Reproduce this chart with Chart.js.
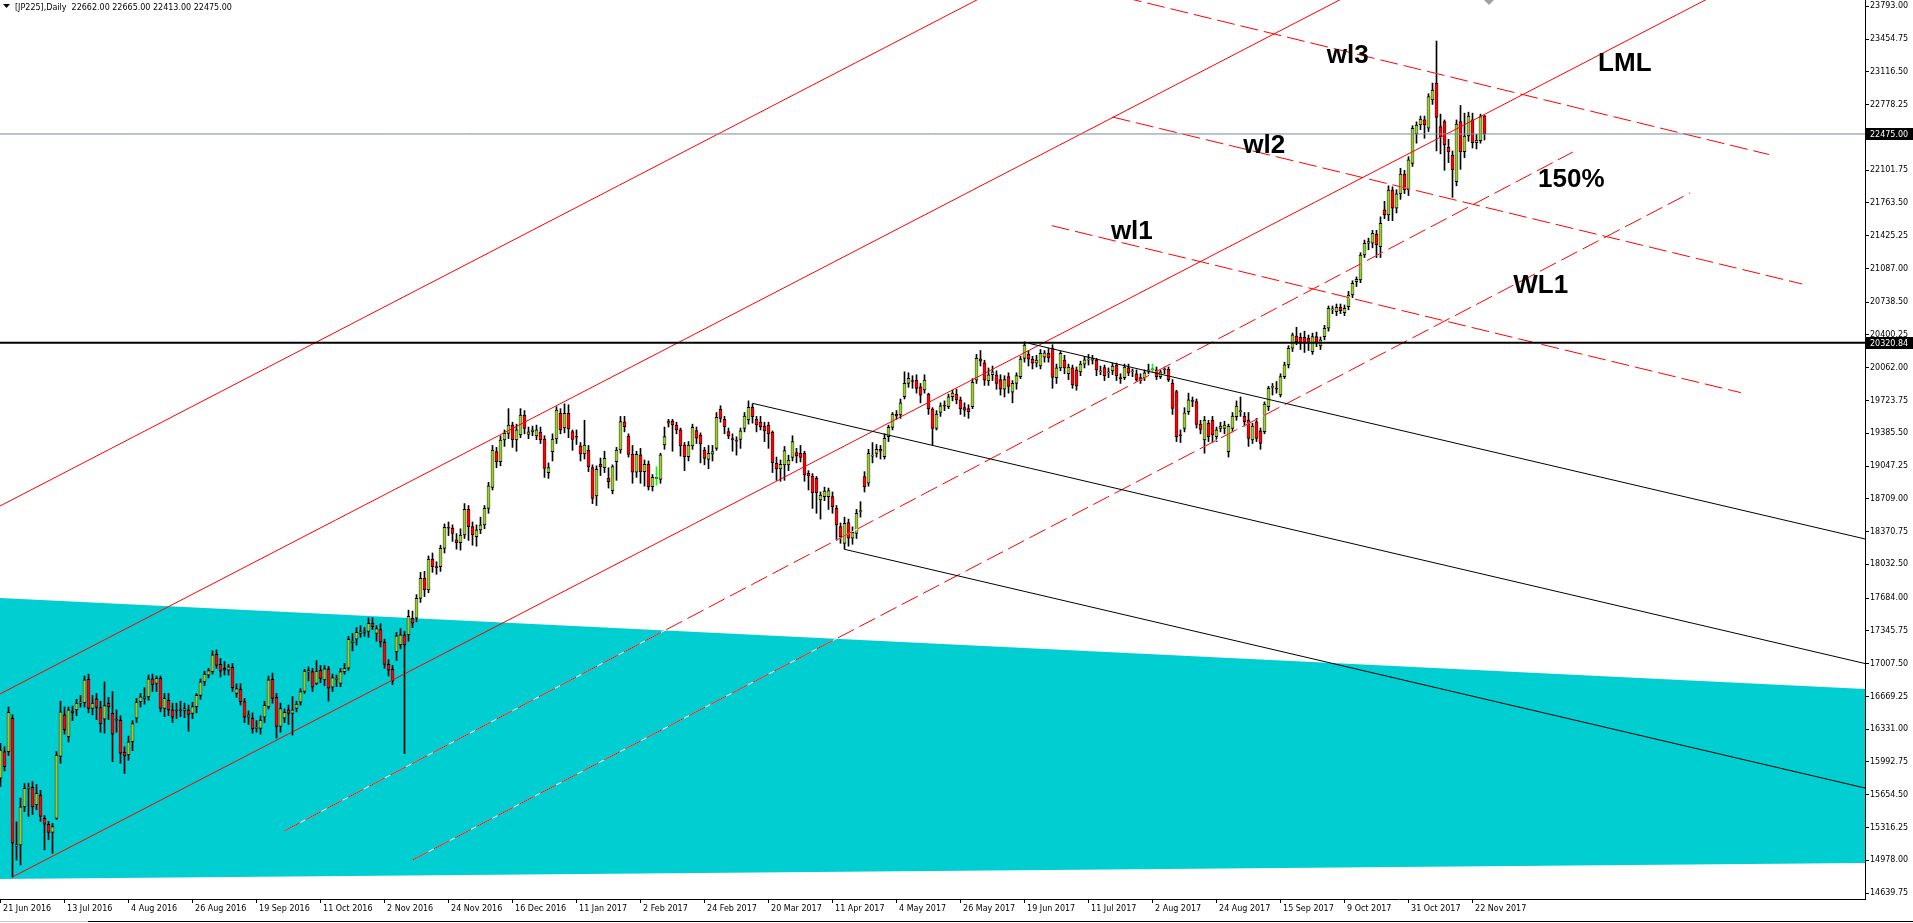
<!DOCTYPE html>
<html><head><meta charset="utf-8">
<script src="https://cdn.jsdelivr.net/npm/chart.js@4.4.0/dist/chart.umd.min.js"></script>
<style>html,body{margin:0;padding:0;background:#fff;overflow:hidden}#wrap{width:1913px;height:923px;position:relative}</style>
</head><body><div id="wrap"><canvas id="c"></canvas></div>
<script>
const titleText = '[JP225],Daily  22662.00 22665.00 22413.00 22475.00';
const xTickLabels = ['21 Jun 2016','13 Jul 2016','4 Aug 2016','26 Aug 2016','19 Sep 2016','11 Oct 2016','2 Nov 2016','24 Nov 2016','16 Dec 2016','11 Jan 2017','2 Feb 2017','24 Feb 2017','20 Mar 2017','11 Apr 2017','4 May 2017','26 May 2017','19 Jun 2017','11 Jul 2017','2 Aug 2017','24 Aug 2017','15 Sep 2017','9 Oct 2017','31 Oct 2017','22 Nov 2017'];
const xTickBars = [0,16,32,48,64,80,96,112,128,144,160,176,192,208,224,240,256,272,288,304,320,336,352,368];
const yTickValues = [23793.00,23454.75,23116.50,22778.25,22440.00,22101.75,21763.50,21425.25,21087.00,20738.50,20400.25,20062.00,19723.75,19385.50,19047.25,18709.00,18370.75,18032.50,17684.00,17345.75,17007.50,16669.25,16331.00,15992.75,15654.50,15316.25,14978.00,14639.75];

const opens = [15825,16100,16100,16445,15125,15135,15530,15720,15730,15550,
15650,15410,15350,15265,15410,16050,16480,16255,16520,16530,
16600,16605,16845,16545,16645,16555,16435,16600,16495,16430,
16425,16095,16065,16200,16445,16615,16645,16665,16850,16805,
16855,16545,16630,16530,16530,16525,16525,16530,16495,16565,
16680,16820,16890,16925,17105,17000,16960,16940,16970,16700,
16745,16615,16455,16445,16340,16340,16455,16565,16845,16660,
16360,16445,16530,16495,16545,16610,16720,16920,16925,16805,
16940,16840,16955,16765,16845,16805,16925,16960,17225,17260,
17320,17330,17340,17425,17320,17360,17230,17000,16950,17130,
17200,17305,17305,17475,17476,17682,17889,17770,18088,18010,
18010,18198,18415,18405,18285,18257,18336,18600,18422,18319,
18388,18440,18611,18828,19196,19093,19316,19385,19471,19316,
19368,19574,19375,19400,19358,19395,19327,18980,19196,19327,
19592,19440,19592,19403,19350,19255,19172,19213,19031,18738,
19065,19031,18921,18793,19093,19213,19500,19358,19168,18983,
19162,18990,19069,18835,18920,18910,19265,19489,19512,19471,
19420,19265,19145,19255,19413,19368,19213,19117,19170,19230,
19633,19530,19403,19325,19310,19323,19437,19523,19654,19530,
19500,19461,19471,19395,19076,19017,19059,19059,19137,19186,
19179,19179,18972,18945,18921,18697,18732,18732,18732,18611,
18422,18250,18463,18302,18353,18577,18938,18870,19150,19179,
19220,19144,19350,19446,19580,19574,19763,19901,19930,19935,
19866,19832,19790,19636,19436,19601,19670,19660,19763,19790,
19730,19650,19640,19660,19935,20155,20114,19925,19990,19990,
19940,19840,19970,19810,19900,19970,20159,20200,20150,20110,
20080,20170,20210,20262,19960,20060,20140,20000,20060,20040,
20020,20100,20140,20140,20140,20020,20065,20010,20030,20090,
19960,19960,20060,20020,20000,19960,19960,20030,20040,20040,
19970,20045,20045,19901,19815,19368,19436,19610,19720,19712,
19480,19316,19488,19522,19350,19436,19436,19195,19436,19556,
19610,19564,19522,19316,19505,19412,19402,19660,19860,19850,
19781,19970,20091,20263,20390,20376,20376,20366,20228,20384,
20287,20384,20470,20660,20640,20686,20630,20693,20813,20950,
20968,21226,21347,21347,21443,21313,21691,21639,21897,21708,
21856,22062,21897,22172,22475,22568,22620,22534,22826,22998,
22551,22602,22338,22258,21983,22602,22293,22454,22620,22386,
22406,22662];
const highs = [16185,16150,16560,16480,15375,15620,15770,15775,15790,15760,
15700,15440,15380,15360,16100,16620,16560,16560,16570,16640,
16680,16880,16900,16680,16700,16620,16820,16660,16720,16530,
16470,16150,16260,16420,16650,16700,16760,16890,16900,16880,
16880,16700,16700,16600,16600,16620,16600,16580,16610,16700,
16850,16930,16960,17140,17150,17060,17030,17000,17010,16800,
16800,16650,16520,16500,16420,16470,16620,16880,16910,16700,
16600,16540,16580,16670,16620,16750,16950,16975,16960,17040,
16990,16990,16980,16900,16890,16960,17010,17290,17320,17380,
17400,17380,17480,17480,17400,17420,17260,17050,16990,17330,
17370,17340,17560,17550,17720,17950,17960,18120,18150,18060,
18230,18450,18470,18440,18350,18400,18660,18640,18470,18440,
18520,18640,18880,19260,19240,19360,19420,19640,19500,19480,
19640,19620,19450,19460,19470,19450,19360,19080,19380,19660,
19640,19690,19680,19420,19420,19290,19520,19260,19060,19050,
19130,19200,19030,19060,19240,19560,19560,19380,19260,19200,
19230,19110,19100,18960,19040,19180,19450,19530,19530,19500,
19440,19290,19300,19480,19450,19390,19240,19260,19260,19600,
19670,19560,19440,19380,19350,19440,19600,19720,19690,19560,
19560,19500,19500,19410,19140,19110,19250,19160,19360,19230,
19260,19200,19000,18970,18940,18780,18830,18820,18780,18640,
18460,18520,18500,18420,18600,18680,18990,19220,19290,19270,
19260,19380,19470,19600,19620,19740,20020,20010,19980,19990,
19900,19990,19800,19650,19620,19700,19720,19790,19830,19840,
19760,19700,19680,19950,20200,20240,20140,20060,20080,20030,
19990,19980,20010,19930,20010,20180,20330,20240,20180,20190,
20250,20240,20260,20300,20100,20230,20190,20100,20090,20070,
20130,20180,20200,20190,20160,20080,20090,20060,20110,20110,
20000,20100,20100,20050,20040,20000,20040,20100,20100,20070,
20040,20070,20070,19940,19830,19420,19650,19800,19760,19740,
19520,19560,19520,19560,19450,19500,19510,19480,19600,19720,
19760,19600,19600,19490,19540,19440,19710,19870,19900,19920,
20000,20120,20290,20420,20480,20420,20440,20400,20420,20430,
20380,20500,20700,20700,20720,20720,20710,20850,20960,21000,
21250,21380,21400,21480,21480,21620,21780,21940,21930,21900,
22120,22100,22240,22560,22600,22660,22660,22890,23000,23435,
22680,22620,22420,22300,22620,22770,22690,22700,22690,22470,
22680,22665];
const lows = [15740,15900,16060,14805,14980,14930,15480,15430,15450,15500,
15380,15085,15190,15050,15400,15980,16280,16200,16420,16470,
16560,16560,16500,16480,16430,16300,16290,16430,15995,16300,
15980,15875,16010,16110,16400,16560,16590,16630,16720,16720,
16510,16460,16470,16400,16440,16460,16450,16310,16440,16500,
16640,16780,16860,16900,16960,16870,16890,16890,16720,16660,
16580,16400,16380,16290,16300,16280,16400,16540,16600,16240,
16300,16400,16380,16270,16510,16580,16700,16830,16720,16790,
16810,16780,16620,16720,16770,16770,16900,16940,17140,17200,
17280,17290,17280,17360,17240,17180,16960,16880,16790,17040,
17160,16080,17240,17380,17440,17640,17700,17740,17950,17930,
17960,18150,18330,18270,18190,18180,18300,18280,18230,18220,
18350,18400,18560,18800,19030,19050,19250,19330,19240,19200,
19340,19380,19330,19360,19320,19280,18930,18920,19100,19280,
19380,19390,19340,19210,19270,19100,19120,18990,18660,18640,
18950,18980,18820,18760,18900,19180,19400,19140,18870,18930,
18870,18840,18800,18790,18850,18870,19220,19450,19200,19380,
19150,19000,19100,19220,19280,19080,19060,19020,19100,19210,
19500,19380,19330,19200,19160,19230,19400,19480,19490,19400,
19420,19300,19230,18980,18900,18890,18900,19000,19100,19080,
19090,18890,18800,18610,18560,18500,18690,18600,18560,18280,
18250,18190,18220,18240,18300,18520,18780,18840,19080,19140,
19120,19120,19300,19420,19530,19540,19740,19860,19850,19800,
19700,19800,19580,19262,19420,19560,19620,19640,19720,19690,
19580,19560,19540,19640,19900,20080,19880,19880,19930,19840,
19780,19760,19800,19700,19840,19950,20120,20080,20050,20070,
20050,20120,20120,19850,19900,20030,20000,19940,19850,19830,
19980,20060,20090,20100,19980,19990,19930,19960,19990,19930,
19900,19940,19980,19970,19920,19900,19930,20000,20000,19940,
19950,20000,19920,19580,19300,19290,19400,19580,19660,19440,
19380,19180,19300,19290,19300,19400,19380,19140,19400,19520,
19560,19460,19250,19280,19300,19220,19380,19620,19780,19800,
19760,19950,20060,20230,20300,20250,20220,20240,20200,20280,
20250,20350,20440,20620,20600,20620,20600,20660,20780,20900,
20940,21200,21280,21300,21200,21200,21600,21580,21580,21660,
21800,21860,21840,22140,22380,22520,22430,22500,22780,22300,
22270,22100,22180,21821,21940,22110,22230,22400,22330,22320,
22380,22413];
const closes = [16115,15945,16505,15155,15140,15530,15720,15737,15530,15670,
15430,15350,15265,15325,16065,16510,16325,16530,16500,16600,
16610,16840,16545,16600,16555,16385,16575,16565,16280,16425,
16085,16055,16200,16390,16610,16665,16665,16850,16790,16855,
16545,16650,16530,16455,16520,16520,16545,16485,16565,16680,
16820,16900,16935,17100,16990,16930,16940,16975,16760,16750,
16615,16455,16480,16335,16345,16425,16580,16840,16650,16360,
16545,16505,16495,16530,16590,16720,16930,16935,16765,16930,
16855,16955,16755,16865,16850,16925,16960,17260,17240,17330,
17335,17345,17425,17390,17370,17230,17000,16940,16830,17295,
17305,17200,17495,17425,17682,17889,17770,18088,18010,17995,
18198,18415,18405,18353,18257,18336,18600,18422,18336,18388,
18440,18611,18842,19213,19093,19316,19385,19471,19316,19420,
19574,19437,19400,19420,19420,19316,19024,19031,19327,19626,
19420,19592,19430,19323,19345,19172,19265,19041,18714,19014,
19041,19127,18886,19041,19213,19506,19454,19168,18983,19168,
18990,19065,18835,18931,18925,19162,19351,19512,19471,19420,
19255,19145,19265,19447,19334,19275,19127,19179,19196,19550,
19540,19454,19358,19320,19305,19410,19564,19654,19557,19471,
19454,19410,19378,19083,19017,19065,19206,19110,19299,19151,
19137,18955,18945,18773,18773,18749,18790,18794,18628,18439,
18319,18456,18302,18364,18560,18580,18835,19179,19155,19220,
19200,19333,19446,19584,19565,19701,19901,19952,19920,19849,
19780,19935,19636,19436,19584,19670,19665,19763,19800,19730,
19640,19625,19610,19911,20159,20130,19935,19990,20020,19900,
19840,19940,19870,19900,19980,20152,20296,20150,20110,20140,
20210,20215,20165,19962,20060,20210,20060,20070,19885,19875,
20100,20145,20150,20155,20040,20030,19980,20020,20080,19980,
19950,20070,20010,20025,19940,19930,20010,20040,20045,19970,
20020,20040,19940,19643,19350,19360,19598,19730,19715,19477,
19426,19522,19350,19368,19420,19460,19470,19460,19564,19667,
19615,19505,19333,19460,19333,19281,19687,19850,19865,19840,
19970,20091,20263,20401,20332,20315,20315,20315,20384,20321,
20349,20470,20676,20665,20686,20652,20676,20813,20934,20975,
21226,21347,21364,21450,21330,21553,21639,21897,21708,21856,
22062,21897,22207,22534,22568,22630,22568,22860,22929,22647,
22448,22362,22293,22103,22578,22293,22454,22661,22386,22413,
22654,22475];
const limeBars = [164, 288];

// chart objects in (bar index, price)
const zoneTop = [[-0.125,17685],[466.125,16746]];
const zoneBottom = [[-0.125,14785],[466.125,14950]];
const forkUpper = [[-0.125,18635],[466.125,28608]];
const forkMedian = [[-0.125,16695],[466.125,26668]];
const forkLower = [[3,14806],[466.125,24712]];
const level150 = [[70.9,15280],[393.1,22289]];
const levelWL1 = [[103,14981],[422.4,21867]];
const warnWl3 = [[275,23944],[442.1,22263]];
const warnWl2 = [[278,22650],[450.4,20927]];
const warnWl1 = [[262.8,21529],[435.1,19805]];
const downMedian = [[188,19695],[466.125,17009]];
const downLower = [[211,18188],[466.125,15724]];
const downUpper = [[257.1,20314],[466.125,18295]];
const supportLevel = 20320.84;
const lastPrice = 22475;
const annText = ['wl3','wl2','150%','WL1','LML','wl1'];
const annBar = [331.55,310.7,384.4,378.2,399.4,277.6];
const annPrice = [23205,22276,21931,20831,23130,21396];

const idx = closes.map((_, i) => i);
const pts = a => a.map(p => ({x: p[0], y: p[1]}));
const lineDs = (a, color, width, dash, order) => ({type:'line', data: pts(a), borderColor: color, borderWidth: width, borderDash: dash || [], pointRadius: 0, pointHoverRadius: 0, fill: false, tension: 0, order});
const DASH = [18, 6];

const datasets = [
  {type:'line', data: pts(zoneTop), borderWidth:0, pointRadius:0, backgroundColor:'#00CED1', fill:'+1', order:20},
  {type:'line', data: pts(zoneBottom), borderWidth:0, pointRadius:0, fill:false, order:19},
  {type:'bar', data: idx.map(i => ({x:i, y:[lows[i], highs[i]]})), backgroundColor: idx.map(i => limeBars.includes(i) ? '#00FF00' : '#000000'), borderWidth:0, barThickness:1, grouped:false, order:12},
  {type:'bar', data: idx.map(i => ({x:i, y:[opens[i], closes[i]]})), backgroundColor: idx.map(i => closes[i] >= opens[i] ? '#9ACD32' : '#FF0000'), borderColor:'#000000', borderWidth:{left:0.6,right:0.6,top:1,bottom:1}, borderSkipped:false, barThickness:3, minBarLength:1, grouped:false, order:11},
  lineDs(level150, '#FFFFFF', 1, [], 9),
  lineDs(levelWL1, '#FFFFFF', 1, [], 9),
  lineDs(warnWl1, '#FFFFFF', 1, [], 9),
  lineDs(warnWl2, '#FFFFFF', 1, [], 9),
  lineDs(warnWl3, '#FFFFFF', 1, [], 9),
  lineDs(level150, '#FF0000', 1, DASH, 8),
  lineDs(levelWL1, '#FF0000', 1, DASH, 8),
  lineDs(warnWl1, '#FF0000', 1, DASH, 8),
  lineDs(warnWl2, '#FF0000', 1, DASH, 8),
  lineDs(warnWl3, '#FF0000', 1, DASH, 8),
  lineDs(forkUpper, '#FF0000', 1, [], 7),
  lineDs(forkMedian, '#FF0000', 1, [], 7),
  lineDs(forkLower, '#FF0000', 1, [], 7),
  lineDs(downMedian, '#000000', 1, [], 6),
  lineDs(downLower, '#000000', 1, [], 6),
  lineDs(downUpper, '#000000', 1, [], 6),
  lineDs([[-1, lastPrice],[467, lastPrice]], '#778899', 1, [], 5),
  lineDs([[-1, supportLevel],[467, supportLevel]], '#000000', 2, [], 4)
];

const overlay = {
  id: 'overlay',
  afterDatasetsDraw(chart) {
    const {ctx, chartArea: ca, scales: {x, y}} = chart;
    ctx.save();
    ctx.beginPath(); ctx.rect(ca.left, ca.top, ca.right - ca.left, ca.bottom - ca.top); ctx.clip();
    ctx.font = 'bold 26px "Liberation Sans", Arial, sans-serif';
    ctx.fillStyle = '#000'; ctx.textAlign = 'left'; ctx.textBaseline = 'alphabetic';
    annText.forEach((t, k) => ctx.fillText(t, x.getPixelForValue(annBar[k]), y.getPixelForValue(annPrice[k])));
    ctx.fillStyle = '#A0A0A0';
    ctx.beginPath(); ctx.moveTo(1484, 0); ctx.lineTo(1494, 0); ctx.lineTo(1489, 5); ctx.closePath(); ctx.fill();
    ctx.restore();
  },
  afterDraw(chart) {
    const {ctx, chartArea: ca, scales: {y}} = chart;
    ctx.save();
    ctx.font = '8px "DejaVu Sans", sans-serif';
    ctx.textAlign = 'left'; ctx.textBaseline = 'middle';
    [[lastPrice, '22475.00'], [supportLevel, '20320.84']].forEach(([v, t]) => {
      const py = Math.round(y.getPixelForValue(v));
      ctx.fillStyle = '#000'; ctx.fillRect(ca.right + 1, py - 6, 48, 12);
      ctx.fillStyle = '#fff'; ctx.fillText(t, ca.right + 5, py + 0.5);
    });
    ctx.fillStyle = '#000';
    ctx.beginPath(); ctx.moveTo(3, 4); ctx.lineTo(10, 4); ctx.lineTo(6.5, 8); ctx.closePath(); ctx.fill();
    ctx.textBaseline = 'alphabetic';
    ctx.fillText(titleText, 15, 10);
    ctx.fillStyle = '#C8C8C8'; ctx.fillRect(0, 921, 88, 1);
    ctx.fillStyle = '#000'; ctx.fillRect(88, 921, 1913 - 88, 1);
    ctx.restore();
  }
};

new Chart(document.getElementById('c'), {
  type: 'bar',
  data: { datasets },
  options: {
    responsive: true, maintainAspectRatio: false, devicePixelRatio: 1, animation: false, events: [],
    layout: { padding: 0 },
    plugins: { legend: {display:false}, tooltip: {enabled:false}, title: {display:false} },
    scales: {
      x: {
        type: 'linear', min: -0.125, max: 466.125, offset: false, position: 'bottom',
        afterBuildTicks: s => { s.ticks = xTickBars.map(v => ({value: v})); },
        afterFit: s => { s.height = 24; s.paddingLeft = 0; s.paddingRight = 0; },
        ticks: { autoSkip:false, maxRotation:0, minRotation:0, align:'start', padding:1, color:'#000', font:{family:'DejaVu Sans', size:8}, callback: (v, i) => ' ' + xTickLabels[i] },
        grid: { drawOnChartArea:false, drawTicks:true, tickLength:4, color:'#000', offset:false },
        border: { display:true, color:'#000', width:1 }
      },
      y: {
        type: 'linear', position: 'right', min: 14578.5, max: 23858,
        afterBuildTicks: s => { s.ticks = yTickValues.map(v => ({value: v})); },
        afterFit: s => { s.width = 48; s.paddingTop = 0; s.paddingBottom = 0; },
        ticks: { autoSkip:false, padding:1, color:'#000', font:{family:'DejaVu Sans', size:8}, callback: v => Number(v).toFixed(2) },
        grid: { drawOnChartArea:false, drawTicks:true, tickLength:4, color:'#000' },
        border: { display:true, color:'#000', width:1 }
      }
    }
  },
  plugins: [overlay]
});
</script>
</body></html>
